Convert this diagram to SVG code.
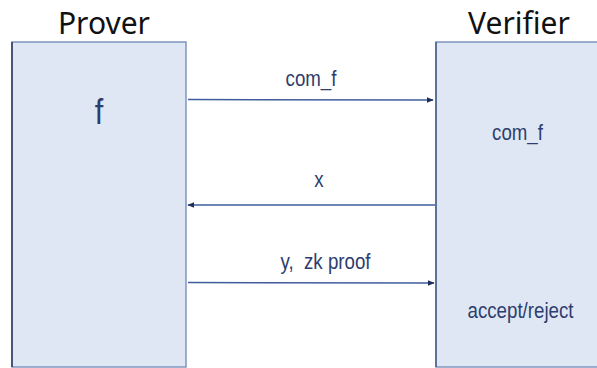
<svg xmlns="http://www.w3.org/2000/svg" width="597" height="368" viewBox="0 0 597 368">
  <style>
    .party { fill: #dfe7f4; stroke: #7f95bf; stroke-width: 1.5; }
    .title { font-family: "Noto Sans", "Liberation Sans", sans-serif; font-size: 30px; fill: #111; text-anchor: middle; }
    .lbl { font-family: "Liberation Sans", Arial, sans-serif; font-size: 22px; fill: #2d3d6e; text-anchor: middle; white-space: pre; }
    .big { font-size: 36px; }
    .msg { stroke: #3f5d9c; stroke-width: 1.5; fill: none; marker-end: url(#head); }
  </style>
  <defs>
    <marker id="head" viewBox="0 0 10 10" refX="9" refY="5" markerWidth="7" markerHeight="7" markerUnits="userSpaceOnUse" orient="auto">
      <path d="M0,1 L10,5 L0,9 z" fill="#1f2f5a"/>
    </marker>
  </defs>
  <rect width="597" height="368" fill="#ffffff"/>

  <g id="prover">
    <rect class="party" x="12" y="42" width="174" height="325"/>
    <line x1="12" y1="42" x2="12" y2="367" stroke="#2e3a5e" stroke-width="1.5"/>
    <text class="title" x="104" y="34">Prover</text>
    <text class="lbl big" transform="translate(99,124) scale(0.85,1)">f</text>
  </g>

  <g id="verifier">
    <rect class="party" x="436" y="42" width="170" height="325"/>
    <line x1="436" y1="42" x2="436" y2="367" stroke="#4c5f86" stroke-width="1.5"/>
    <text class="title" x="519" y="34">Verifier</text>
    <text class="lbl" transform="translate(517.5,140) scale(0.85,1)">com_f</text>
    <text class="lbl" transform="translate(520.5,318) scale(0.85,1)">accept/reject</text>
  </g>

  <g id="connectors">
    <line class="msg" x1="188" y1="99.5" x2="433" y2="100"/>
    <text class="lbl" transform="translate(311,86) scale(0.85,1)">com_f</text>
    <line class="msg" x1="435" y1="205" x2="188" y2="205"/>
    <text class="lbl" transform="translate(319,187) scale(0.85,1)">x</text>
    <line class="msg" x1="188" y1="282.5" x2="434" y2="283"/>
    <text class="lbl" transform="translate(325.5,269) scale(0.85,1)">y,  zk proof</text>
  </g>
</svg>
